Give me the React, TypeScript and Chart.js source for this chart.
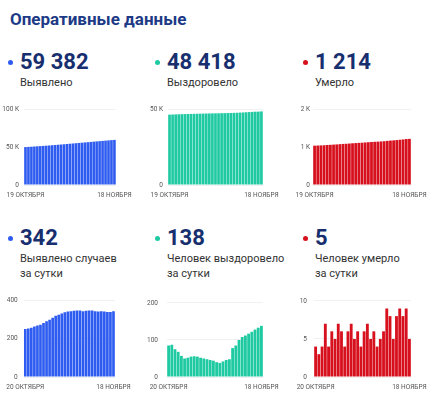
import React, { useEffect, useRef } from "react";
import { Chart, registerables } from "chart.js";
Chart.register(...registerables);

const topDates = [
  "19 октября", "20 октября", "21 октября", "22 октября", "23 октября", "24 октября", "25 октября", "26 октября",
  "27 октября", "28 октября", "29 октября", "30 октября", "31 октября", "1 ноября", "2 ноября", "3 ноября",
  "4 ноября", "5 ноября", "6 ноября", "7 ноября", "8 ноября", "9 ноября", "10 ноября", "11 ноября",
  "12 ноября", "13 ноября", "14 ноября", "15 ноября", "16 ноября", "17 ноября", "18 ноября",
];
const bottomDates = topDates.slice(1);

const totalCases = [
  49900, 50150, 50400, 50660, 50920, 51190, 51460, 51740, 52030, 52330, 52640, 52960, 53280, 53610, 53950, 54290,
  54630, 54980, 55320, 55660, 56000, 56340, 56690, 57030, 57370, 57710, 58050, 58390, 58720, 59050, 59382,
];
const totalRecovered = [
  46280, 46365, 46452, 46527, 46595, 46650, 46700, 46752, 46807, 46864, 46919, 46971, 47021, 47069, 47115, 47159,
  47199, 47237, 47279, 47325, 47373, 47451, 47536, 47636, 47744, 47856, 47974, 48096, 48224, 48280, 48418,
];
const totalDeaths = [
  1035, 1039, 1042, 1046, 1053, 1057, 1063, 1068, 1075, 1081, 1085, 1091, 1098, 1103, 1109, 1113,
  1119, 1126, 1131, 1137, 1141, 1146, 1152, 1161, 1169, 1174, 1182, 1191, 1199, 1209, 1214,
];

const dailyCases = [
  250, 252, 256, 262, 268, 272, 280, 290, 298, 308, 318, 324, 330, 336, 340, 342,
  344, 346, 346, 342, 344, 346, 345, 342, 340, 341, 340, 338, 338, 342,
];
const dailyRecovered = [
  85, 87, 75, 68, 57, 50, 52, 55, 56, 55, 52, 50, 48, 46, 44, 40,
  38, 42, 46, 48, 78, 85, 100, 108, 112, 117, 122, 128, 133, 138,
];
const dailyDeaths = [
  4, 3, 4, 7, 4, 6, 5, 7, 6, 4, 6, 7, 5, 6, 4, 6,
  7, 5, 6, 4, 5, 6, 9, 8, 5, 8, 9, 8, 9, 5,
];

const BLUE = "#2f5cf0";
const TEAL = "#1fcaa2";
const RED = "#d7101d";
const NAVY = "#172f6e";
const FONT = "Roboto, 'Noto Sans', sans-serif";

type PanelProps = {
  left: number; top: number; width: number; height: number;
  labels: string[]; values: number[]; color: string;
  max: number; step: number; yWidth: number; padTop: number; yPad: number;
};

function fmt(v: number) {
  return v >= 1000 ? `${v / 1000} K` : `${v}`;
}

function Panel(p: PanelProps) {
  const ref = useRef<HTMLCanvasElement>(null);
  useEffect(() => {
    const n = p.labels.length;
    const chart = new Chart(ref.current!, {
      type: "bar",
      data: {
        labels: p.labels,
        datasets: [{ data: p.values, backgroundColor: p.color, borderWidth: 0, barPercentage: 0.88, categoryPercentage: 1 }],
      },
      options: {
        animation: false,
        responsive: false,
        maintainAspectRatio: false,
        layout: { padding: { left: 0, right: 20, top: p.padTop, bottom: 0 } },
        plugins: { legend: { display: false }, tooltip: { enabled: false } },
        scales: {
          x: {
            grid: { display: false, drawTicks: false },
            border: { display: false },
            ticks: {
              autoSkip: false, maxRotation: 0, minRotation: 0, padding: 6,
              color: "#555", font: { family: FONT, size: 6.5 },
              callback: (_v: any, i: number) => (i === 0 || i === n - 1 ? p.labels[i].toUpperCase() : ""),
            },
            afterFit: (s: any) => { s.height = 20; },
          },
          y: {
            min: 0, max: p.max,
            grid: { color: "#f1f1f1", drawTicks: false },
            border: { display: false },
            ticks: { stepSize: p.step, padding: p.yPad, color: "#555", font: { family: FONT, size: 6.5 }, callback: (v: any) => fmt(Number(v)) },
            afterFit: (s: any) => { s.width = p.yWidth; },
          },
        },
      },
    });
    return () => chart.destroy();
  }, []);
  return (
    <canvas ref={ref} width={p.width} height={p.height}
      style={{ position: "absolute", left: p.left, top: p.top, width: p.width, height: p.height }} />
  );
}

function Stat(props: { left: number; top: number; color: string; value: string; lines: string[] }) {
  const { left, top, color, value, lines } = props;
  return (
    <>
      <div style={{ position: "absolute", left: left - 12, top: top + 9, width: 5, height: 5, borderRadius: 3, background: color }} />
      <div style={{ position: "absolute", left, top, font: `bold 22px ${FONT}`, lineHeight: "22px", color: NAVY, whiteSpace: "nowrap" }}>{value}</div>
      <div style={{ position: "absolute", left, top: top + 25, font: `11px ${FONT}`, lineHeight: "14.5px", color: "#333", whiteSpace: "nowrap" }}>
        {lines.map((l, i) => <div key={i}>{l}</div>)}
      </div>
    </>
  );
}

export default function App() {
  return (
    <div style={{ position: "absolute", left: 0, top: 0, width: 430, height: 397, background: "#fff", overflow: "hidden" }}>
      <div style={{ position: "absolute", left: 10, top: 9, font: `bold 17px ${FONT}`, color: "#1d3a86", whiteSpace: "nowrap" }}>Оперативные данные</div>
      <Stat left={20} top={51} color={BLUE} value="59 382" lines={["Выявлено"]} />
      <Stat left={167} top={51} color={TEAL} value="48 418" lines={["Выздоровело"]} />
      <Stat left={315} top={51} color={RED} value="1 214" lines={["Умерло"]} />
      <Stat left={20} top={227} color={BLUE} value="342" lines={["Выявлено случаев", "за сутки"]} />
      <Stat left={167} top={227} color={TEAL} value="138" lines={["Человек выздоровело", "за сутки"]} />
      <Stat left={315} top={227} color={RED} value="5" lines={["Человек умерло", "за сутки"]} />

      <Panel left={0} top={100} width={138} height={105} labels={topDates} values={totalCases} color={BLUE} max={100000} step={50000} yWidth={24} padTop={9} yPad={5} />
      <Panel left={140} top={100} width={145} height={105} labels={topDates} values={totalRecovered} color={TEAL} max={50000} step={50000} yWidth={28} padTop={9} yPad={5} />
      <Panel left={285} top={100} width={148} height={105} labels={topDates} values={totalDeaths} color={RED} max={2000} step={1000} yWidth={28} padTop={9} yPad={3} />

      <Panel left={0} top={290} width={137} height={107} labels={bottomDates} values={dailyCases} color={BLUE} max={400} step={200} yWidth={20} padTop={10} yPad={6} />
      <Panel left={140} top={290} width={145} height={107} labels={bottomDates} values={dailyRecovered} color={TEAL} max={200} step={100} yWidth={27} padTop={10} yPad={9} />
      <Panel left={285} top={290} width={148} height={107} labels={bottomDates} values={dailyDeaths} color={RED} max={10} step={5} yWidth={29} padTop={10} yPad={7} />
    </div>
  );
}
